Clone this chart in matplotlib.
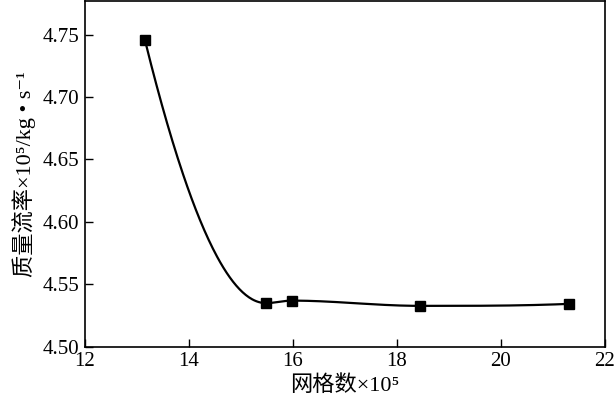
import numpy as np
import matplotlib.pyplot as plt

# grid count (x10^5) vs mass flow rate (x10^5 kg/s)
grid_counts = [13.15, 15.48, 15.98, 18.44, 21.31]
flow_rates = [4.746, 4.535, 4.537, 4.5328, 4.5344]

x_ticks = [12, 14, 16, 18, 20, 22]
y_ticks = [4.50, 4.55, 4.60, 4.65, 4.70, 4.75]

plt.rcParams['font.family'] = ['Liberation Serif', 'Noto Sans CJK SC', 'DejaVu Sans']


def pchip(x, y, xs):
    # shape-preserving cubic, only for the smooth connecting curve
    x = np.asarray(x, float)
    y = np.asarray(y, float)
    h = np.diff(x)
    delta = np.diff(y) / h
    n = len(x)
    m = np.zeros(n)
    for k in range(1, n - 1):
        if delta[k - 1] * delta[k] > 0:
            w1 = 2 * h[k] + h[k - 1]
            w2 = h[k] + 2 * h[k - 1]
            m[k] = (w1 + w2) / (w1 / delta[k - 1] + w2 / delta[k])
    m[0] = ((2 * h[0] + h[1]) * delta[0] - h[0] * delta[1]) / (h[0] + h[1])
    if np.sign(m[0]) != np.sign(delta[0]):
        m[0] = 0
    m[-1] = ((2 * h[-1] + h[-2]) * delta[-1] - h[-1] * delta[-2]) / (h[-1] + h[-2])
    if np.sign(m[-1]) != np.sign(delta[-1]):
        m[-1] = 0
    out = np.empty_like(xs)
    for j, xv in enumerate(xs):
        i = min(max(np.searchsorted(x, xv) - 1, 0), n - 2)
        t = (xv - x[i]) / h[i]
        h00 = 2 * t ** 3 - 3 * t ** 2 + 1
        h10 = t ** 3 - 2 * t ** 2 + t
        h01 = -2 * t ** 3 + 3 * t ** 2
        h11 = t ** 3 - t ** 2
        out[j] = h00 * y[i] + h10 * h[i] * m[i] + h01 * y[i + 1] + h11 * h[i] * m[i + 1]
    return out


fig = plt.figure(figsize=(6.16, 4.09), dpi=100)
ax = fig.add_axes([0.138, 0.152, 0.844, 0.846])

xs = np.linspace(grid_counts[0], grid_counts[-1], 400)
ax.plot(xs, pchip(grid_counts, flow_rates, xs), color='black', lw=1.6)
ax.plot(grid_counts, flow_rates, 's', color='black', markersize=6.5)

ax.set_xlim(12, 22)
ax.set_ylim(4.50, 4.777)
ax.set_xticks(x_ticks)
ax.set_yticks(y_ticks)
ax.set_yticklabels(['%.2f' % v for v in y_ticks])
ax.tick_params(direction='in', length=6, width=1, labelsize=15, pad=4)
for s in ax.spines.values():
    s.set_linewidth(1.2)

ax.set_xlabel('网格数×10⁵', fontsize=16, labelpad=3)
ax.set_ylabel('质量流率×10⁵/kg • s⁻¹', fontsize=16, labelpad=5)

fig.savefig('out.png', dpi=100)
